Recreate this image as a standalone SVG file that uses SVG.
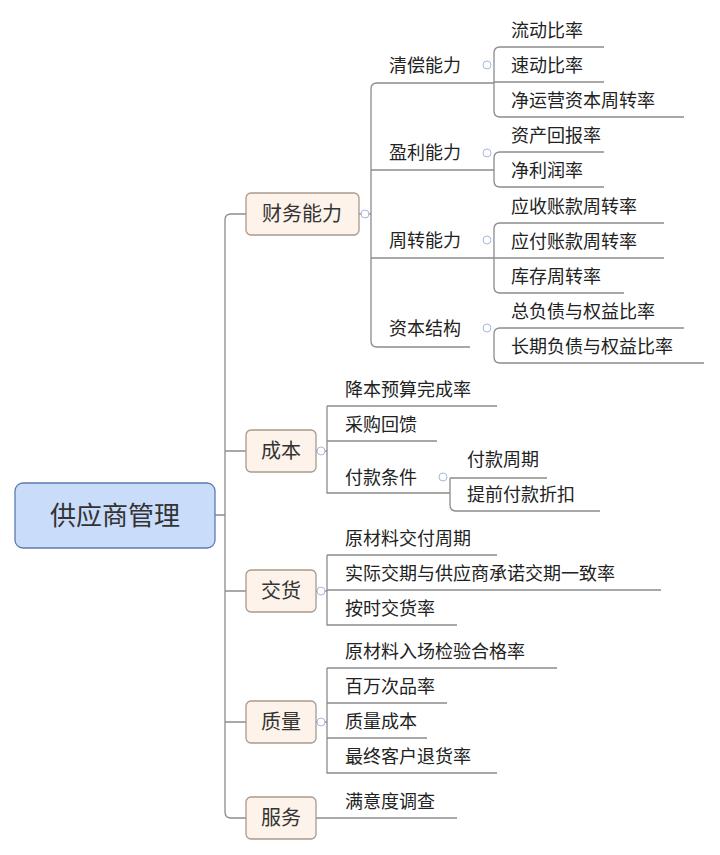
<svg xmlns="http://www.w3.org/2000/svg" width="720" height="855" viewBox="0 0 720 855">
<style>
.l{fill:none;stroke:#8c8c8c;stroke-width:1.3}
.t{font-family:"Noto Sans CJK SC",sans-serif;font-size:18px;fill:#222}
.n{fill:#fdf3ea;stroke:#a89a8c;stroke-width:1.3}
.nt{font-family:"Noto Sans CJK SC",sans-serif;font-size:20px;fill:#333;text-anchor:middle}
.ic{fill:#fff;stroke:#a8b8e0;stroke-width:1}
</style>
<rect width="720" height="855" fill="#fff"/>
<g id="connectors">
<path class="l" d="M215 515H225M231 214H246M225 220V812M231 818H246M231 214Q225 214 225 220M225 812Q225 818 231 818M225 451H246M225 591H246M225 722H246"/>
<path class="l" d="M359 214H371M377 83H494M371 89V341Q371 347 377 347H470M371 89Q371 83 377 83M371 170H494M371 258H494"/>
<path class="l" d="M500 47H604M494 53Q494 47 500 47M494 53V111Q494 117 500 117H684M494 82H604"/>
<path class="l" d="M500 152H604M494 158Q494 152 500 152M494 158V181Q494 187 500 187H604"/>
<path class="l" d="M500 223H664M494 229Q494 223 500 223M494 229V287Q494 293 500 293H624M494 258H664"/>
<path class="l" d="M500 328H684M494 334Q494 328 500 328M494 334V357Q494 363 500 363H704"/>
<path class="l" d="M316 451H327M327 406H497M327 406V493H450M327 441H437"/>
<path class="l" d="M450 478H547M450 478V505Q450 511 456 511H600"/>
<path class="l" d="M316 591H327M327 555H497M327 555V625H457M327 590H661"/>
<path class="l" d="M316 722H327M327 668H557M327 668V773H497M327 703H447M327 738H427"/>
<path class="l" d="M316 818H457"/>
</g>
<g id="icons">
<circle class="ic" cx="365" cy="214" r="4"/><circle class="ic" cx="487" cy="65" r="4"/><circle class="ic" cx="487" cy="153" r="4"/><circle class="ic" cx="487" cy="240" r="4"/><circle class="ic" cx="487" cy="328" r="4"/><circle class="ic" cx="321" cy="451" r="4"/><circle class="ic" cx="443" cy="477" r="4"/><circle class="ic" cx="321" cy="591" r="4"/><circle class="ic" cx="321" cy="722" r="4"/>
</g>
<g id="root"><rect x="15" y="483" width="200" height="65" rx="8" fill="#c9dcfa" stroke="#5e7bb0" stroke-width="1.3"/><text x="115" y="525" font-family="Noto Sans CJK SC,sans-serif" font-size="26" fill="#333" text-anchor="middle">供应商管理</text></g>
<g id="n-caiwu"><rect class="n" x="246" y="193" width="113" height="42" rx="5"/><text class="nt" x="302" y="221">财务能力</text></g>
<g id="n-chengben"><rect class="n" x="246" y="430" width="70" height="42" rx="5"/><text class="nt" x="281" y="458">成本</text></g>
<g id="n-jiaohuo"><rect class="n" x="246" y="570" width="70" height="42" rx="5"/><text class="nt" x="281" y="598">交货</text></g>
<g id="n-zhiliang"><rect class="n" x="246" y="701" width="70" height="42" rx="5"/><text class="nt" x="281" y="729">质量</text></g>
<g id="n-fuwu"><rect class="n" x="246" y="797" width="70" height="42" rx="5"/><text class="nt" x="281" y="825">服务</text></g>
<g id="labels">
<text class="t" x="389" y="72">清偿能力</text>
<text class="t" x="389" y="159">盈利能力</text>
<text class="t" x="389" y="247">周转能力</text>
<text class="t" x="389" y="335">资本结构</text>
<text class="t" x="511" y="37">流动比率</text>
<text class="t" x="511" y="72">速动比率</text>
<text class="t" x="511" y="107">净运营资本周转率</text>
<text class="t" x="511" y="142">资产回报率</text>
<text class="t" x="511" y="177">净利润率</text>
<text class="t" x="511" y="213">应收账款周转率</text>
<text class="t" x="511" y="248">应付账款周转率</text>
<text class="t" x="511" y="283">库存周转率</text>
<text class="t" x="511" y="318">总负债与权益比率</text>
<text class="t" x="511" y="353">长期负债与权益比率</text>
<text class="t" x="345" y="396">降本预算完成率</text>
<text class="t" x="345" y="431">采购回馈</text>
<text class="t" x="345" y="484">付款条件</text>
<text class="t" x="467" y="466">付款周期</text>
<text class="t" x="467" y="501">提前付款折扣</text>
<text class="t" x="345" y="545">原材料交付周期</text>
<text class="t" x="345" y="580">实际交期与供应商承诺交期一致率</text>
<text class="t" x="345" y="615">按时交货率</text>
<text class="t" x="345" y="658">原材料入场检验合格率</text>
<text class="t" x="345" y="693">百万次品率</text>
<text class="t" x="345" y="728">质量成本</text>
<text class="t" x="345" y="763">最终客户退货率</text>
<text class="t" x="345" y="808">满意度调查</text>
</g>
</svg>
